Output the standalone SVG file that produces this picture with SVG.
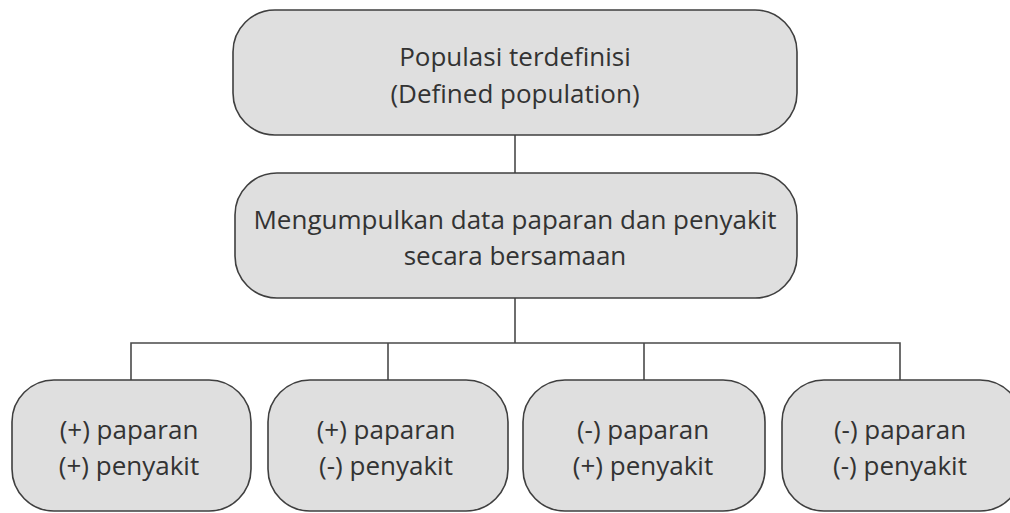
<svg xmlns="http://www.w3.org/2000/svg" width="1010" height="513" viewBox="0 0 1010 513">
  <style>
    .box { fill: #dfdfdf; stroke: #3f3f3f; stroke-width: 1.6; }
    .lbl { font-family: "Open Sans", "Noto Sans", "Liberation Sans", sans-serif; font-size: 26px; fill: #333333; text-anchor: middle; }
    .wire { stroke: #4a4a4a; stroke-width: 1.6; fill: none; }
  </style>
  <rect width="1010" height="513" fill="#ffffff"/>

  <!-- connectors -->
  <g id="connectors">
    <line class="wire" x1="515" y1="135" x2="515" y2="173"/>
    <line class="wire" x1="515" y1="298" x2="515" y2="343"/>
    <polyline class="wire" points="131,380 131,343 900,343 900,380"/>
    <line class="wire" x1="388" y1="343" x2="388" y2="380"/>
    <line class="wire" x1="644" y1="343" x2="644" y2="380"/>
  </g>

  <g id="population">
    <rect class="box" x="233" y="10" width="564" height="125" rx="42" ry="42"/>
    <text class="lbl" x="515" y="66">Populasi terdefinisi</text>
    <text class="lbl" x="515" y="103">(Defined population)</text>
  </g>

  <g id="collect">
    <rect class="box" x="235" y="173" width="562" height="125" rx="42" ry="42"/>
    <text class="lbl" x="515" y="229">Mengumpulkan data paparan dan penyakit</text>
    <text class="lbl" x="515" y="265">secara bersamaan</text>
  </g>

  <g id="exp-pos-dis-pos">
    <rect class="box" x="12" y="380" width="239" height="131" rx="42" ry="42"/>
    <text class="lbl" x="129" y="439">(+) paparan</text>
    <text class="lbl" x="129" y="475">(+) penyakit</text>
  </g>

  <g id="exp-pos-dis-neg">
    <rect class="box" x="268" y="380" width="240" height="131" rx="42" ry="42"/>
    <text class="lbl" x="386" y="439">(+) paparan</text>
    <text class="lbl" x="386" y="475">(-) penyakit</text>
  </g>

  <g id="exp-neg-dis-pos">
    <rect class="box" x="523" y="380" width="242" height="131" rx="42" ry="42"/>
    <text class="lbl" x="643" y="439">(-) paparan</text>
    <text class="lbl" x="643" y="475">(+) penyakit</text>
  </g>

  <g id="exp-neg-dis-neg">
    <rect class="box" x="782" y="380" width="240" height="131" rx="42" ry="42"/>
    <text class="lbl" x="900" y="439">(-) paparan</text>
    <text class="lbl" x="900" y="475">(-) penyakit</text>
  </g>
</svg>
